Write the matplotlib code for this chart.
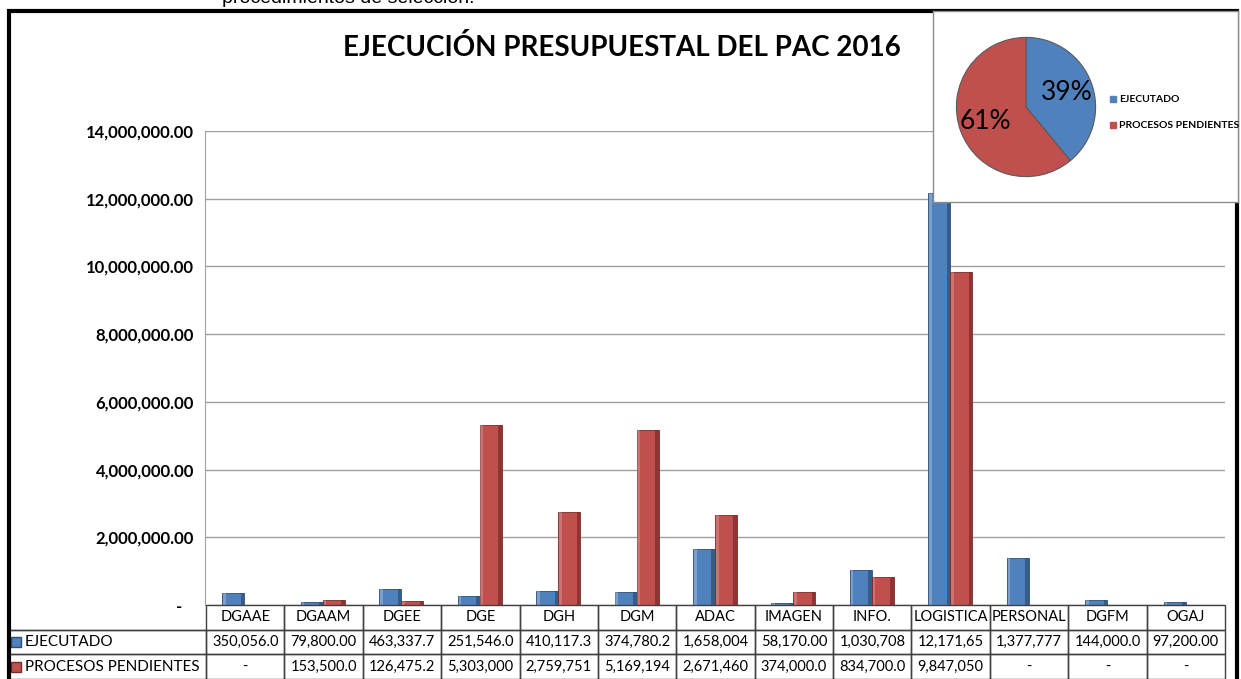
"""Ejecución presupuestal del PAC 2016: barras por dependencia + tabla de datos + torta."""
import matplotlib
matplotlib.use("Agg")
import matplotlib.pyplot as plt
from matplotlib.patches import Rectangle
from matplotlib.ticker import FuncFormatter

plt.rcParams["font.family"] = ["Lato", "DejaVu Sans"]

categorias = ["DGAAE", "DGAAM", "DGEE", "DGE", "DGH", "DGM", "ADAC", "IMAGEN",
              "INFO.", "LOGISTICA", "PERSONAL", "DGFM", "OGAJ"]
ejecutado = [350056.0, 79800.00, 463337.7, 251546.0, 410117.3, 374780.2, 1658004,
             58170.00, 1030708, 12171650, 1377777, 144000.0, 97200.00]
pendientes = [0, 153500.0, 126475.2, 5303000, 2759751, 5169194, 2671460,
              374000.0, 834700.0, 9847050, 0, 0, 0]
pie_labels = ["EJECUTADO", "PROCESOS PENDIENTES"]
pie_values = [39, 61]

c_blue, c_red = "#4F81BD", "#C0504D"
c_blue_dk, c_red_dk = "#2C4D75", "#7A2A28"
W, H = 1241, 679


def fx(px):
    return px / W


def fy(py):
    return 1 - py / H


def celda(v):
    # como Excel: ancho de columna fijo, se corta el texto
    if v == 0:
        return "-"
    return f"{v:,.2f}"[:9]


fig = plt.figure(figsize=(W / 100, H / 100), dpi=100)

# texto cortado del documento escaneado
fig.text(fx(222), fy(3), "procedimientos de selección.", fontsize=14,
         family=["Liberation Sans", "DejaVu Sans"], va="baseline", ha="left")

# marco exterior
fig.patches.append(Rectangle((fx(9), fy(H + 5)), fx(1228), fy(11) - fy(H + 5),
                             transform=fig.transFigure, fill=False,
                             edgecolor="black", linewidth=3, zorder=0))

fig.text(fx(622), fy(47), "EJECUCIÓN PRESUPUESTAL DEL PAC 2016", fontsize=20,
         fontweight="bold", ha="center", va="center")

# gráfico de barras
ax = fig.add_axes([fx(205), fy(605), fx(1020), fy(131) - fy(605)])
x = list(range(len(categorias)))
w = 0.28
xb = [i - w / 2 for i in x]
xr = [i + w / 2 for i in x]
ax.bar(xb, ejecutado, width=w, color=c_blue, edgecolor=c_blue_dk, linewidth=0.6, zorder=3)
ax.bar(xr, pendientes, width=w, color=c_red, edgecolor=c_red_dk, linewidth=0.6, zorder=3)
# bisel: sombra a la derecha y brillo a la izquierda
ax.bar([v + w * 0.42 for v in xb], ejecutado, width=w * 0.16, color=c_blue_dk,
       alpha=0.7, linewidth=0, zorder=4)
ax.bar([v + w * 0.42 for v in xr], pendientes, width=w * 0.16, color=c_red_dk,
       alpha=0.7, linewidth=0, zorder=4)
ax.bar([v - w * 0.40 for v in xb], ejecutado, width=w * 0.12, color="white",
       alpha=0.25, linewidth=0, zorder=4)
ax.bar([v - w * 0.40 for v in xr], pendientes, width=w * 0.12, color="white",
       alpha=0.2, linewidth=0, zorder=4)

ax.set_xlim(-0.5, len(categorias) - 0.5)
ax.set_ylim(0, 14_000_000)
ax.set_yticks(range(0, 14_000_001, 2_000_000))
ax.yaxis.set_major_formatter(FuncFormatter(lambda v, p: "-   " if v == 0 else f"{v:,.2f}"))
ax.tick_params(axis="y", length=0, pad=8, labelsize=12)
for t in ax.get_yticklabels():
    t.set_fontweight("bold")
ax.set_xticks([])
ax.grid(axis="y", color="#A0A0A0", linewidth=1, zorder=0)
for s in ["top", "right", "bottom"]:
    ax.spines[s].set_visible(False)
ax.spines["left"].set_color("#A0A0A0")

# tabla de datos
tx = fig.add_axes([fx(9), fy(H), fx(1216), fy(605) - fy(H)])
tx.axis("off")
filas = [[""] + categorias,
         [""] + [celda(v) for v in ejecutado],
         [""] + [celda(v) for v in pendientes]]
anchos = [197] + [1019 / len(categorias)] * len(categorias)
tab = tx.table(cellText=filas, colWidths=anchos, bbox=[0, 0, 1, 1], cellLoc="center")
tab.auto_set_font_size(False)
tab.set_fontsize(10.5)
for (r, c), cell in tab.get_celld().items():
    cell.set_edgecolor("#404040")
    cell.set_linewidth(1)
    cell.set_facecolor("none")
tab[0, 0].visible_edges = "B"
for r, (lab, col, dk) in enumerate(zip(pie_labels, [c_blue, c_red], [c_blue_dk, c_red_dk]), start=1):
    ym = 1 - (r + 0.5) / 3
    tx.plot([0.006], [ym], marker="s", markersize=6.5, color=col,
            markeredgecolor=dk, transform=tx.transAxes)
    tx.text(0.013, ym, lab, fontsize=11, va="center", ha="left", transform=tx.transAxes)

# recuadro con la torta
box = fig.add_axes([fx(933), fy(202), fx(305), fy(11) - fy(202)])
box.set_xticks([])
box.set_yticks([])
for s in box.spines.values():
    s.set_color("#8C8C8C")
    s.set_linewidth(1)
box.set_zorder(5)

pax = fig.add_axes([fx(955), fy(178), fx(142), fy(36) - fy(178)])
pax.set_zorder(6)
pax.pie(pie_values, colors=[c_blue, c_red], startangle=90, counterclock=False,
        autopct=lambda p: f"{p:.0f}%", pctdistance=0.62, radius=1,
        wedgeprops=dict(edgecolor="#5A5A5A", linewidth=0.8),
        textprops=dict(fontsize=19))
pax.set_xlim(-1.02, 1.02)
pax.set_ylim(-1.02, 1.02)
pax.set_aspect("equal")

for k, (lab, col) in enumerate(zip(pie_labels, [c_blue, c_red])):
    yy = 99 + 26 * k
    fig.patches.append(Rectangle((fx(1110), fy(yy + 3)), fx(6), fy(yy - 3) - fy(yy + 3),
                                 transform=fig.transFigure, color=col, zorder=7))
    fig.text(fx(1119), fy(yy), lab, fontsize=7.5, fontweight="bold", va="center",
             ha="left", zorder=7)

fig.savefig("out.png", dpi=100)
print("wrote out.png")
